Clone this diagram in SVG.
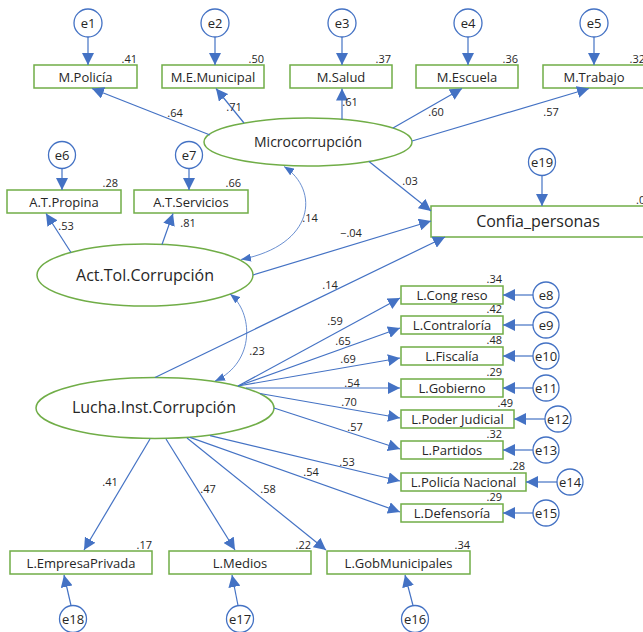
<svg xmlns="http://www.w3.org/2000/svg" width="643" height="632" viewBox="0 0 643 632">
<style>
.box{fill:#fff;stroke:#70ad47;stroke-width:1.5}
.lat{fill:#fff;stroke:#70ad47;stroke-width:1.5}
.err{fill:#fff;stroke:#4472c4;stroke-width:1.3}
.t{font-family:"Open Sans","Noto Sans",sans-serif;font-size:13px;fill:#262626;text-anchor:middle}
.tl{font-family:"Open Sans","Noto Sans",sans-serif;font-size:16px;fill:#262626;text-anchor:middle}
.tm{font-family:"Open Sans","Noto Sans",sans-serif;font-size:14px;fill:#262626;text-anchor:middle}
.n{font-family:"Open Sans","Noto Sans",sans-serif;font-size:11px;fill:#262626;text-anchor:middle}
.r2{font-family:"Open Sans","Noto Sans",sans-serif;font-size:11px;fill:#262626;text-anchor:end}
.p{stroke:#4472c4;stroke-width:1.2;fill:none;marker-end:url(#ah)}
.c{stroke:#4472c4;stroke-width:0.8;fill:none;marker-start:url(#as);marker-end:url(#as)}
</style>
<defs>
<marker id="ah" viewBox="0 0 12 12" refX="12" refY="6" markerWidth="12" markerHeight="12" markerUnits="userSpaceOnUse" orient="auto"><path d="M0,0 L12,6 L0,12 z" fill="#4472c4"/></marker>
<marker id="as" viewBox="0 0 10 8" refX="10" refY="4" markerWidth="10" markerHeight="8" markerUnits="userSpaceOnUse" orient="auto-start-reverse"><path d="M0,0 L10,4 L0,8 z" fill="#4472c4"/></marker>
</defs>

<g id="nodes">
<g id="Microcorrupcion"><ellipse class="lat" cx="308" cy="142" rx="104" ry="24"/><text class="tm" x="308" y="147">Microcorrupción</text></g>
<g id="ActTol"><ellipse class="lat" cx="145" cy="275" rx="108" ry="31"/><text class="tl" x="145" y="281">Act.Tol.Corrupción</text></g>
<g id="Lucha"><ellipse class="lat" cx="155" cy="408" rx="119" ry="30.5"/><text class="tl" x="154" y="413">Lucha.Inst.Corrupción</text></g>
<g id="Confia"><rect class="box" x="431" y="206" width="214" height="31"/><text class="tl" x="538" y="227">Confia_personas</text><text class="n" x="636" y="204" style="text-anchor:start">.0</text></g>

<g id="MPolicia"><rect class="box" x="34" y="65" width="103" height="23"/><text class="t" x="85.5" y="81.5">M.Policía</text><text class="r2" x="137" y="63">.41</text></g>
<g id="MEMunicipal"><rect class="box" x="162" y="65" width="102" height="23"/><text class="t" x="213" y="81.5">M.E.Municipal</text><text class="r2" x="264" y="63">.50</text></g>
<g id="MSalud"><rect class="box" x="290" y="65" width="102" height="23"/><text class="t" x="341" y="81.5">M.Salud</text><text class="r2" x="391" y="63">.37</text></g>
<g id="MEscuela"><rect class="box" x="416" y="65" width="102" height="23"/><text class="t" x="467" y="81.5">M.Escuela</text><text class="r2" x="518" y="63">.36</text></g>
<g id="MTrabajo"><rect class="box" x="543" y="65" width="102" height="23"/><text class="t" x="594" y="81.5">M.Trabajo</text><text class="r2" x="645" y="63">.32</text></g>

<g id="ATPropina"><rect class="box" x="7" y="190" width="114" height="23"/><text class="t" x="64" y="206.5">A.T.Propina</text><text class="r2" x="118" y="187">.28</text></g>
<g id="ATServicios"><rect class="box" x="134" y="190" width="114" height="23"/><text class="t" x="191" y="206.5">A.T.Servicios</text><text class="r2" x="241" y="187">.66</text></g>

<g id="LCongreso"><rect class="box" x="401" y="286" width="102" height="18"/><text class="t" x="452" y="300">L.Cong reso</text><text class="r2" x="502" y="283">.34</text></g>
<g id="LContraloria"><rect class="box" x="401" y="316" width="102" height="18"/><text class="t" x="452" y="330">L.Contraloría</text><text class="r2" x="502" y="313">.42</text></g>
<g id="LFiscalia"><rect class="box" x="401" y="347" width="102" height="18"/><text class="t" x="452" y="361">L.Fiscalía</text><text class="r2" x="502" y="344">.48</text></g>
<g id="LGobierno"><rect class="box" x="401" y="379" width="102" height="18"/><text class="t" x="452" y="393">L.Gobierno</text><text class="r2" x="502" y="376">.29</text></g>
<g id="LPoderJudicial"><rect class="box" x="401" y="410" width="113" height="18"/><text class="t" x="457.5" y="424">L.Poder Judicial</text><text class="r2" x="513" y="407">.49</text></g>
<g id="LPartidos"><rect class="box" x="401" y="441" width="102" height="18"/><text class="t" x="452" y="455">L.Partidos</text><text class="r2" x="502" y="438">.32</text></g>
<g id="LPoliciaNacional"><rect class="box" x="401" y="473" width="125" height="18"/><text class="t" x="463.5" y="487">L.Policía Nacional</text><text class="r2" x="525" y="470">.28</text></g>
<g id="LDefensoria"><rect class="box" x="401" y="504" width="102" height="18"/><text class="t" x="452" y="518">L.Defensoría</text><text class="r2" x="502" y="501">.29</text></g>

<g id="LEmpresaPrivada"><rect class="box" x="10" y="551" width="142" height="23"/><text class="t" x="81" y="567.5">L.EmpresaPrivada</text><text class="r2" x="152" y="549">.17</text></g>
<g id="LMedios"><rect class="box" x="169" y="551" width="142" height="23"/><text class="t" x="240" y="567.5">L.Medios</text><text class="r2" x="311" y="549">.22</text></g>
<g id="LGobMunicipales"><rect class="box" x="327" y="551" width="143" height="23"/><text class="t" x="398.5" y="567.5">L.GobMunicipales</text><text class="r2" x="470" y="549">.34</text></g>

<g id="e1"><circle class="err" cx="88" cy="23" r="14"/><text class="t" x="88" y="28">e1</text></g>
<g id="e2"><circle class="err" cx="215" cy="23" r="14"/><text class="t" x="215" y="28">e2</text></g>
<g id="e3"><circle class="err" cx="342" cy="23" r="14"/><text class="t" x="342" y="28">e3</text></g>
<g id="e4"><circle class="err" cx="468" cy="23" r="14"/><text class="t" x="468" y="28">e4</text></g>
<g id="e5"><circle class="err" cx="594" cy="23" r="14"/><text class="t" x="594" y="28">e5</text></g>
<g id="e6"><circle class="err" cx="62" cy="155" r="13.5"/><text class="t" x="62" y="160">e6</text></g>
<g id="e7"><circle class="err" cx="189" cy="155" r="13.5"/><text class="t" x="189" y="160">e7</text></g>
<g id="e19"><circle class="err" cx="542" cy="162" r="13.5"/><text class="t" x="542" y="167">e19</text></g>
<g id="e8"><circle class="err" cx="546" cy="295" r="13"/><text class="t" x="546" y="300">e8</text></g>
<g id="e9"><circle class="err" cx="546" cy="325" r="13"/><text class="t" x="546" y="330">e9</text></g>
<g id="e10"><circle class="err" cx="546" cy="356" r="13"/><text class="t" x="546" y="361">e10</text></g>
<g id="e11"><circle class="err" cx="546" cy="388" r="13"/><text class="t" x="546" y="393">e11</text></g>
<g id="e12"><circle class="err" cx="558" cy="419" r="13"/><text class="t" x="558" y="424">e12</text></g>
<g id="e13"><circle class="err" cx="546" cy="450" r="13"/><text class="t" x="546" y="455">e13</text></g>
<g id="e14"><circle class="err" cx="570" cy="482" r="13"/><text class="t" x="570" y="487">e14</text></g>
<g id="e15"><circle class="err" cx="546" cy="513" r="13"/><text class="t" x="546" y="518">e15</text></g>
<g id="e18"><circle class="err" cx="73" cy="619" r="13.5"/><text class="t" x="73" y="624">e18</text></g>
<g id="e17"><circle class="err" cx="240" cy="619" r="13.5"/><text class="t" x="240" y="624">e17</text></g>
<g id="e16"><circle class="err" cx="415" cy="619" r="13.5"/><text class="t" x="415" y="624">e16</text></g>
</g>

<g id="connectors">
<line class="p" x1="88" y1="37" x2="88" y2="65"/>
<line class="p" x1="215" y1="37" x2="215" y2="65"/>
<line class="p" x1="342" y1="37" x2="342" y2="65"/>
<line class="p" x1="468" y1="37" x2="468" y2="65"/>
<line class="p" x1="594" y1="37" x2="594" y2="65"/>
<line class="p" x1="62" y1="168.5" x2="62" y2="190"/>
<line class="p" x1="189" y1="168.5" x2="189" y2="190"/>
<line class="p" x1="542" y1="175.5" x2="542" y2="206"/>
<line class="p" x1="533" y1="295" x2="503" y2="295"/>
<line class="p" x1="533" y1="325" x2="503" y2="325"/>
<line class="p" x1="533" y1="356" x2="503" y2="356"/>
<line class="p" x1="533" y1="388" x2="503" y2="388"/>
<line class="p" x1="545" y1="419" x2="514" y2="419"/>
<line class="p" x1="533" y1="450" x2="503" y2="450"/>
<line class="p" x1="557" y1="482" x2="526" y2="482"/>
<line class="p" x1="533" y1="513" x2="503" y2="513"/>
<line class="p" x1="71" y1="605.5" x2="64" y2="575"/>
<line class="p" x1="238" y1="605.5" x2="232" y2="575"/>
<line class="p" x1="413" y1="605.5" x2="405" y2="575"/>

<line class="p" x1="210" y1="135" x2="92" y2="88.5"/>
<line class="p" x1="244" y1="123" x2="216" y2="88.5"/>
<line class="p" x1="342" y1="119.5" x2="342" y2="88.5"/>
<line class="p" x1="393" y1="128" x2="462" y2="88.5"/>
<line class="p" x1="412" y1="141" x2="589" y2="88.5"/>
<line class="p" x1="71" y1="252.5" x2="46" y2="213.5"/>
<line class="p" x1="162" y1="244.5" x2="173" y2="213.5"/>
<line class="p" x1="369" y1="161.5" x2="431" y2="211"/>
<line class="p" x1="253" y1="275" x2="431" y2="221"/>
<line class="p" x1="155" y1="377.5" x2="445" y2="237"/>

<line class="p" x1="238" y1="386" x2="400" y2="298"/>
<line class="p" x1="238" y1="386" x2="400" y2="328"/>
<line class="p" x1="238" y1="386" x2="400" y2="358"/>
<line class="p" x1="246" y1="388" x2="400" y2="388"/>
<line class="p" x1="260" y1="393.5" x2="400" y2="418"/>
<line class="p" x1="274" y1="408" x2="400" y2="449"/>
<line class="p" x1="210" y1="435.6" x2="400" y2="481"/>
<line class="p" x1="190" y1="437.4" x2="400" y2="512"/>
<line class="p" x1="150" y1="439" x2="84" y2="550"/>
<line class="p" x1="166" y1="439" x2="235" y2="550"/>
<line class="p" x1="187" y1="438" x2="326" y2="550"/>

<path class="c" d="M284,166.5 C320,190 315,245 241,259.5"/>
<path class="c" d="M230,294 C253,312 256,362 215,381"/>

<text class="n" x="175" y="117">.64</text>
<text class="n" x="234" y="111">.71</text>
<text class="n" x="350" y="106">.61</text>
<text class="n" x="436" y="116">.60</text>
<text class="n" x="551" y="116">.57</text>
<text class="n" x="66" y="230">.53</text>
<text class="n" x="188" y="227">.81</text>
<text class="n" x="310" y="222">.14</text>
<text class="n" x="410" y="185">.03</text>
<text class="n" x="351" y="237">−.04</text>
<text class="n" x="330" y="289">.14</text>
<text class="n" x="257" y="355">.23</text>
<text class="n" x="335" y="325">.59</text>
<text class="n" x="343" y="345">.65</text>
<text class="n" x="348" y="363">.69</text>
<text class="n" x="352" y="387">.54</text>
<text class="n" x="349" y="406">.70</text>
<text class="n" x="355" y="431">.57</text>
<text class="n" x="347" y="466">.53</text>
<text class="n" x="311" y="476">.54</text>
<text class="n" x="110" y="486">.41</text>
<text class="n" x="208" y="493">.47</text>
<text class="n" x="268" y="493">.58</text>
</g>
</svg>
